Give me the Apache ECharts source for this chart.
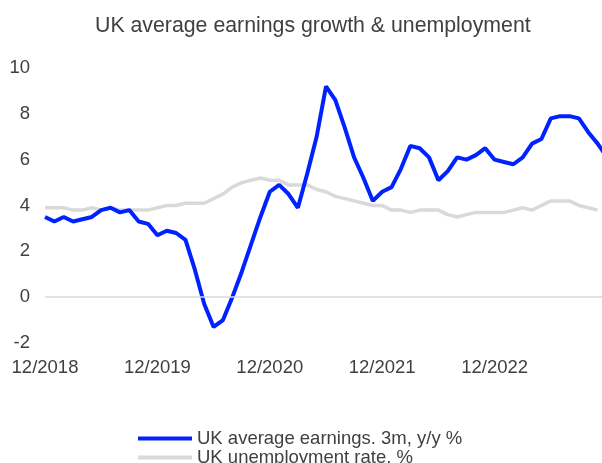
<!DOCTYPE html>
<html>
<head>
<meta charset="utf-8">
<script src="https://cdn.jsdelivr.net/npm/echarts@6/dist/echarts.min.js"></script>
<style>
html,body{margin:0;padding:0;background:#fff;}
#chart{width:602px;height:463px;}
</style>
</head>
<body>
<div id="chart"></div>
<script>
var months = [
 "12/2018",
 "01/2019","02/2019","03/2019","04/2019","05/2019","06/2019","07/2019","08/2019","09/2019","10/2019","11/2019","12/2019",
 "01/2020","02/2020","03/2020","04/2020","05/2020","06/2020","07/2020","08/2020","09/2020","10/2020","11/2020","12/2020",
 "01/2021","02/2021","03/2021","04/2021","05/2021","06/2021","07/2021","08/2021","09/2021","10/2021","11/2021","12/2021",
 "01/2022","02/2022","03/2022","04/2022","05/2022","06/2022","07/2022","08/2022","09/2022","10/2022","11/2022","12/2022",
 "01/2023","02/2023","03/2023","04/2023","05/2023","06/2023","07/2023","08/2023","09/2023","10/2023","11/2023","12/2023"
];

var tickLabels = ["12/2018", "12/2019", "12/2020", "12/2021", "12/2022"];

var earnings = [
 3.5,
 3.3,3.5,3.3,3.4,3.5,3.8,3.9,3.7,3.8,3.3,3.2,2.7,
 2.9,2.8,2.5,1.2,-0.3,-1.3,-1.0,0.0,1.1,2.3,3.5,4.6,
 4.9,4.5,3.9,5.4,7.0,9.2,8.6,7.4,6.1,5.2,4.2,4.6,
 4.8,5.6,6.6,6.5,6.1,5.1,5.5,6.1,6.0,6.2,6.5,6.0,
 5.9,5.8,6.1,6.7,6.9,7.8,7.9,7.9,7.8,7.2,6.7,6.1
];

var unemployment = [
 3.9,
 3.9,3.9,3.8,3.8,3.9,3.8,3.9,3.8,3.8,3.8,3.8,3.9,
 4.0,4.0,4.1,4.1,4.1,4.3,4.5,4.8,5.0,5.1,5.2,5.1,
 5.1,4.9,4.9,4.9,4.7,4.6,4.4,4.3,4.2,4.1,4.0,4.0,
 3.8,3.8,3.7,3.8,3.8,3.8,3.6,3.5,3.6,3.7,3.7,3.7,
 3.7,3.8,3.9,3.8,4.0,4.2,4.2,4.2,4.0,3.9,3.8
];

var yTicks = {min: -2, max: 10, interval: 2};
var seriesNames = ["UK average earnings. 3m, y/y %", "UK unemployment rate. %"];

var chart = echarts.init(document.getElementById('chart'), null, {renderer: 'canvas'});
var font = '"Liberation Sans", Arial, sans-serif';
var legendText = {fontFamily: font, fontSize: 18.5, color: '#404040'};
function legendBox(name, top) {
  return {
    orient: 'vertical',
    left: 138, top: top,
    padding: 0,
    itemGap: 0,
    itemWidth: 54, itemHeight: 4,
    icon: 'rect',
    data: [name],
    textStyle: legendText
  };
}
chart.setOption({
  animation: false,
  backgroundColor: '#ffffff',
  title: {
    text: 'UK average earnings growth & unemployment',
    left: 90, top: 11,
    textStyle: {fontFamily: font, fontSize: 21.3, fontWeight: 'normal', color: '#404040'}
  },
  legend: [legendBox(seriesNames[0], 429), legendBox(seriesNames[1], 448)],
  grid: {left: 45, top: 68, width: 562, bottom: 120, containLabel: false, outerBoundsMode: 'none'},
  xAxis: {
    type: 'category',
    data: months,
    boundaryGap: false,
    axisLine: {show: false},
    axisTick: {show: false},
    splitLine: {show: false},
    axisLabel: {
      interval: function (idx, val) { return tickLabels.indexOf(val) >= 0; },
      hideOverlap: false,
      margin: 15, fontFamily: font, fontSize: 18.5, color: '#404040'
    }
  },
  yAxis: {
    type: 'value',
    min: yTicks.min, max: yTicks.max, interval: yTicks.interval,
    axisLine: {show: false},
    axisTick: {show: false},
    splitLine: {show: false},
    axisLabel: {margin: 15, fontFamily: font, fontSize: 18.5, color: '#404040'}
  },
  series: [
    {
      name: seriesNames[1],
      type: 'line',
      data: unemployment,
      symbol: 'none',
      lineStyle: {color: '#d9d9d9', width: 3.5},
      itemStyle: {color: '#d9d9d9'},
      markLine: {
        silent: true, symbol: 'none',
        label: {show: false},
        lineStyle: {color: '#d9d9d9', width: 1.5, type: 'solid'},
        data: [{yAxis: 0}]
      }
    },
    {
      name: seriesNames[0],
      type: 'line',
      data: earnings,
      symbol: 'none',
      lineStyle: {color: '#0022ff', width: 4},
      itemStyle: {color: '#0022ff'}
    }
  ]
});
</script>
</body>
</html>
